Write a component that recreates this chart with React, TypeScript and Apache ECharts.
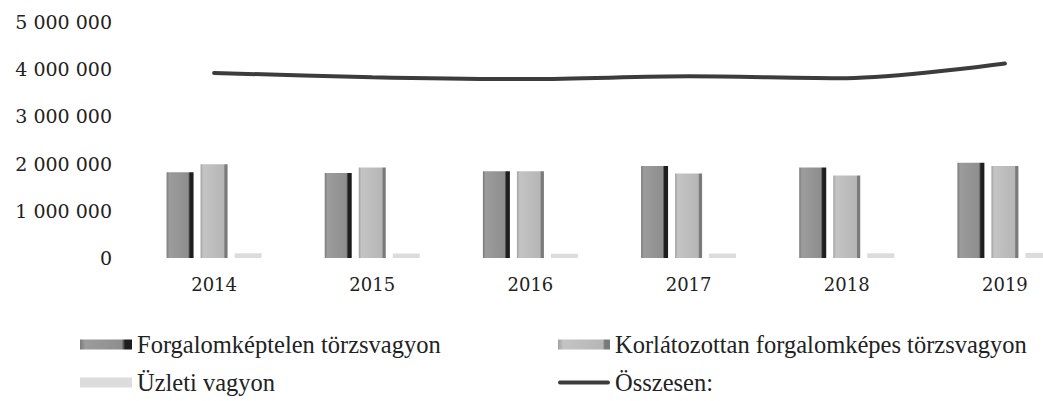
import React, { useEffect, useRef } from "react";
import * as echarts from "echarts";

const categories = ["2014", "2015", "2016", "2017", "2018", "2019"];
const forgalomkeptelen = [1815000, 1800000, 1840000, 1950000, 1920000, 2020000];
const korlatozottan = [1985000, 1920000, 1840000, 1790000, 1750000, 1950000];
const uzleti = [100000, 95000, 90000, 95000, 100000, 110000];
const osszesen = [3920000, 3830000, 3790000, 3850000, 3810000, 4120000];
const yTicks = [0, 1000000, 2000000, 3000000, 4000000, 5000000];
const yTickLabels = ["0", "1 000 000", "2 000 000", "3 000 000", "4 000 000", "5 000 000"];

const seriesNames = [
  "Forgalomképtelen törzsvagyon",
  "Korlátozottan forgalomképes törzsvagyon",
  "Üzleti vagyon",
  "Összesen:",
];

const grad = (stops: [number, string][]) =>
  new echarts.graphic.LinearGradient(
    0, 0, 1, 0,
    stops.map(([offset, color]) => ({ offset, color }))
  );

export default function App() {
  const ref = useRef<HTMLDivElement>(null);
  useEffect(() => {
    if (!ref.current) return;
    const chart = echarts.init(ref.current, undefined, { renderer: "svg" });
    const legendText = {
      fontFamily: "Liberation Serif",
      fontSize: 24.5,
      color: "#222",
      lineHeight: 25,
    };
    const mkLegend = (name: string, left: number, top: number, icon: string) => ({
      data: [{ name, icon }],
      left,
      top,
      orient: "horizontal",
      padding: 0,
      itemWidth: 52,
      itemHeight: 10,
      textStyle: legendText,
    });
    const c1 = grad([[0, "#7a7a7a"], [0.1, "#9c9c9c"], [0.8, "#8e8e8e"], [0.87, "#1e1e1e"], [1, "#1e1e1e"]]);
    const c2 = grad([[0, "#a0a0a0"], [0.1, "#c4c4c4"], [0.86, "#b6b6b6"], [0.9, "#7a7a7a"], [1, "#7a7a7a"]]);
    const c3 = "#dcdcdc";
    chart.setOption({
      animation: false,
      backgroundColor: "#ffffff",
      grid: { left: 135, right: 0, top: 22, bottom: 143, containLabel: false },
      legend: [
        mkLegend(seriesNames[0], 80, 332, "rect"),
        mkLegend(seriesNames[1], 558, 332, "rect"),
        mkLegend(seriesNames[2], 80, 370, "rect"),
        mkLegend(seriesNames[3], 558, 370, "path://M2,3 L50,3 A2,2 0 0 1 50,7 L2,7 A2,2 0 0 1 2,3 Z"),
      ],
      xAxis: {
        type: "category",
        data: categories,
        axisLine: { show: false },
        axisTick: { show: false },
        axisLabel: {
          fontFamily: "DejaVu Serif",
          fontSize: 18,
          color: "#222",
          margin: 17,
        },
      },
      yAxis: {
        type: "value",
        min: 0,
        max: 5000000,
        interval: 1000000,
        splitLine: { show: false },
        axisLine: { show: false },
        axisTick: { show: false },
        axisLabel: {
          fontFamily: "DejaVu Serif",
          fontSize: 19,
          color: "#222",
          margin: 23,
          formatter: (v: number) => yTickLabels[yTicks.indexOf(v)] ?? String(v),
        },
      },
      series: [
        {
          name: seriesNames[0],
          type: "bar",
          data: forgalomkeptelen,
          barWidth: 27,
          barGap: "26%",
          itemStyle: { color: c1 },
        },
        {
          name: seriesNames[1],
          type: "bar",
          data: korlatozottan,
          barWidth: 27,
          barGap: "26%",
          itemStyle: { color: c2 },
        },
        {
          name: seriesNames[2],
          type: "bar",
          data: uzleti,
          barWidth: 27,
          barGap: "26%",
          itemStyle: { color: c3 },
        },
        {
          name: seriesNames[3],
          type: "line",
          data: osszesen,
          smooth: 0.3,
          symbol: "none",
          lineStyle: { color: "#3c3c3c", width: 4, cap: "round" },
          itemStyle: { color: "#3c3c3c" },
        },
      ],
    });
    return () => chart.dispose();
  }, []);
  return (
    <div
      style={{
        position: "fixed",
        left: 0,
        top: 0,
        width: 1043,
        height: 401,
        overflow: "hidden",
        background: "#fff",
      }}
    >
      <div ref={ref} style={{ width: 1084, height: 401 }} />
    </div>
  );
}
